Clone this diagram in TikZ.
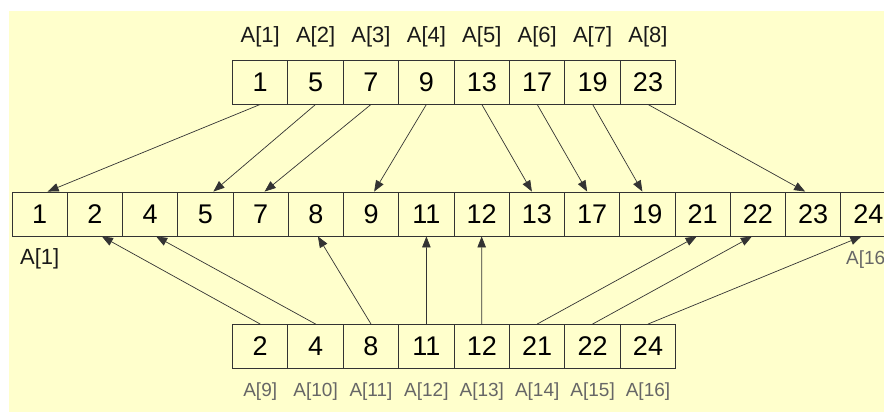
\documentclass[tikz,border=0pt]{standalone}
\usepackage{fontspec}
\setmainfont{Liberation Sans}
\usetikzlibrary{arrows.meta}
\definecolor{paper}{HTML}{FFFFCC}
\definecolor{ink}{HTML}{333333}

\begin{document}
\begin{tikzpicture}[x=1pt,y=-1pt,>={Triangle[length=11pt,width=8.5pt]},
  cell/.style={draw=ink,line width=0.9pt,minimum width=55.4pt,minimum height=44pt,inner sep=0pt,font=\fontsize{27}{30}\selectfont},
  lab/.style={font=\fontsize{22}{26}\selectfont,text=black!90},
  sublab/.style={font=\fontsize{19}{22}\selectfont,text=black!60},
  arr/.style={->,draw=ink,line width=0.7pt}]
  \clip (0,0) rectangle (884,412);
  \fill[paper] (9,11) rectangle (884,412);
  \foreach \v [count=\i] in {1,5,7,9,13,17,19,23}{
    \node[cell] (t\i) at ({204.8+55.4*\i},82) {\v};
    \node[lab] (tl\i) at ({204.8+55.4*\i},37) {A[\i]};
  }
  \foreach \v [count=\i] in {1,2,4,5,7,8,9,11,12,13,17,19,21,22,23,24}
    \node[cell,minimum width=55.25pt] (m\i) at ({-15.6+55.25*\i},214) {\v};
  \node[lab] (ml1) at (m1.center |- 0,259) {A[1]};
  \node[sublab] (ml16) at (m16.center |- 0,260) {A[16]};
  \foreach \v [count=\i] in {2,4,8,11,12,21,22,24}{
    \node[cell] (b\i) at ({204.8+55.4*\i},346.5) {\v};
    \pgfmathtruncatemacro\k{\i+8}
    \node[sublab] (bl\i) at ({204.8+55.4*\i},392) {A[\k]};
  }
  \foreach \s/\e/\d in {1/1/8,2/4/8,3/5/4,4/7/3,5/10/-5,6/11/-5,7/12/-5,8/15/-8}
    \draw[arr] (t\s.south) -- ([xshift=\d pt]m\e.north);
  \foreach \s/\e/\d in {1/2/7,2/3/6,3/6/2,4/8/0,5/9/0,6/13/-6,7/14/-6,8/16/-7}
    \draw[arr] (b\s.north) -- ([xshift=\d pt]m\e.south);
\end{tikzpicture}
\end{document}
